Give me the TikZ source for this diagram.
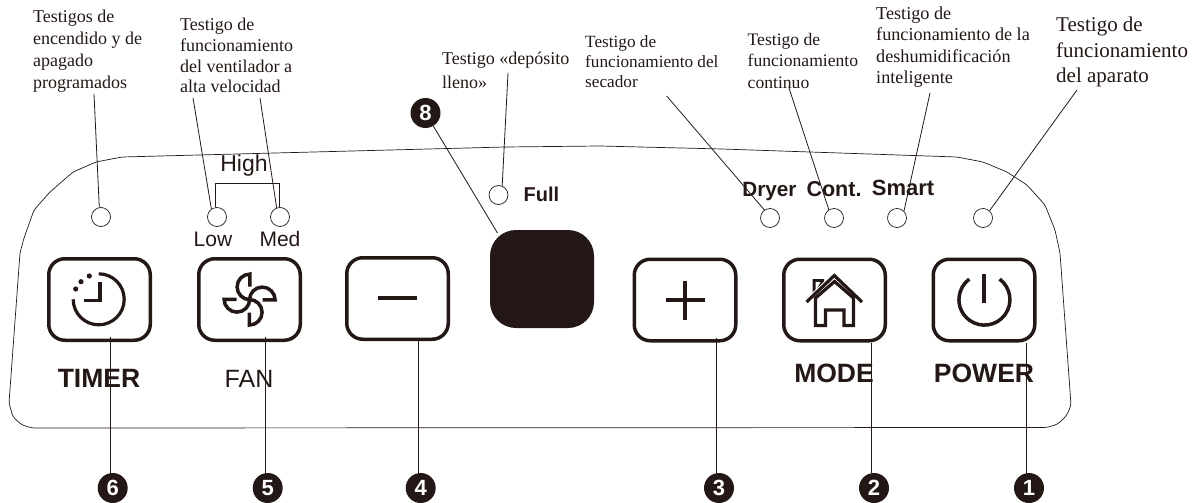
\documentclass[tikz,border=0pt]{standalone}
\usepackage{fontspec}
\setmainfont{Liberation Serif}
\newfontfamily\panelfont{Liberation Sans}
\usetikzlibrary{calc}
\definecolor{ink}{HTML}{231815}
\tikzset{
  note/.style 2 args={font=\fontsize{#1}{#2}\selectfont,align=left,anchor=west,inner sep=0pt,text=ink},
  panelsoft/.style={font=\panelfont\fontsize{#1}{#1}\selectfont,inner sep=0pt,anchor=base,text=ink},
  panelbold/.style={font=\panelfont\bfseries\fontsize{#1}{#1}\selectfont,inner sep=0pt,anchor=base,text=ink},
  led/.style={shape=circle,draw=ink,line width=.7pt,minimum size=19pt,inner sep=0pt},
  btn/.style={shape=rectangle,draw=ink,line width=3.5pt,rounded corners=16pt,minimum width=101.5pt,minimum height=81.5pt,inner sep=0pt},
  badge/.style={shape=circle,fill=ink,text=white,minimum size=30pt,inner sep=0pt,font=\panelfont\bfseries\fontsize{22}{22}\selectfont},
  leader/.style={draw=ink,line width=.8pt},
  icon/.style={draw=ink,line width=3.2pt},
}
\begin{document}
\begin{tikzpicture}[x=1pt,y=-1pt]
  \useasboundingbox (0,0) rectangle (1196,503);
  \draw[draw=ink,line width=.7pt,rounded corners=3pt] (122,157) -- (505,147) -- (600,146) -- (722,149) -- (957,157) -- (983,162) -- (1007,172) -- (1027,185) -- (1045,205) -- (1055,230) -- (1060,253) -- (1071,405) -- (1067,415) -- (1058,424) -- (1047,427.5) -- (32,428) -- (22,425) -- (13,417) -- (9,403) -- (20,253) -- (24,238) -- (34,210) -- (50,192) -- (73,172) -- (96,162) -- cycle;

  \node[note={18}{22}] (txtTimer) at (33,51) {Testigos de\\encendido y de\\apagado\\programados};
  \node[note={18}{20.7}] (txtFan) at (180,55.5) {Testigo de\\funcionamiento\\del ventilador a\\alta velocidad};
  \node[note={18}{24}] (txtFull) at (442,70.5) {Testigo «depósito\\lleno»};
  \node[note={17.2}{20}] (txtDryer) at (585,62) {Testigo de\\funcionamiento del\\secador};
  \node[note={17.6}{21.5}] (txtCont) at (747.5,60.5) {Testigo de\\funcionamiento\\continuo};
  \node[note={18.2}{21.3}] (txtSmart) at (876,47) {Testigo de\\funcionamiento de la\\deshumidificación\\inteligente};
  \node[note={21}{25.5}] (txtPower) at (1056,52) {Testigo de\\funcionamiento\\del aparato};

  \node[led] (ledTimer) at (101,217) {};
  \node[led] (ledLow) at (217,217) {};
  \node[led] (ledMed) at (280,217) {};
  \node[led] (ledFull) at (498.5,195) {};
  \node[led] (ledDryer) at (770,218) {};
  \node[led] (ledCont) at (834,218) {};
  \node[led] (ledSmart) at (897,218) {};
  \node[led] (ledPower) at (983,218) {};

  \node[panelsoft=23] (lblHigh) at (244,171.7) {High};
  \node[panelsoft=21] (lblLow) at (213,246.7) {Low};
  \node[panelsoft=21] (lblMed) at (280,246.7) {Med};
  \node[panelbold=20] (lblFull) at (541.5,201.7) {Full};
  \node[panelbold=20.7] (lblDryer) at (769.5,196) {Dryer};
  \node[panelbold=21.5] (lblCont) at (834,196) {Cont.};
  \node[panelbold=22] (lblSmart) at (903,195.5) {Smart};
  \node[panelbold=26.5] (lblTimer) at (99,387.7) {TIMER};
  \node[panelsoft=25] (lblFan) at (249,387.7) {FAN};
  \node[panelbold=26.5] (lblMode) at (834,382.3) {MODE};
  \node[panelbold=26.5] (lblPower) at (984,382.3) {POWER};

  \node[btn] (btnTimer) at (99.5,299.5) {};
  \node[btn] (btnFan) at (249.5,299.5) {};
  \node[btn] (btnMinus) at (397.5,298.5) {};
  \node[btn] (btnPlus) at (685,300) {};
  \node[btn] (btnMode) at (834.5,300) {};
  \node[btn] (btnPower) at (984,300) {};
  \node[shape=rectangle,fill=ink,rounded corners=26pt,minimum width=104pt,minimum height=98pt,inner sep=0pt] (display) at (542,279) {};

  \node[badge] (num8) at (425.5,113) {8};
  \node[badge] (num6) at (112.7,488) {6};
  \node[badge] (num5) at (267.7,488) {5};
  \node[badge] (num4) at (420.7,488) {4};
  \node[badge] (num3) at (719,488) {3};
  \node[badge] (num2) at (874,488) {2};
  \node[badge] (num1) at (1029,488) {1};

  \coordinate (endTimer) at (94,94);
  \coordinate (endLow) at (193,98);
  \coordinate (endMed) at (260,98);
  \coordinate (endFull) at (508,73);
  \coordinate (endDryer) at (666.7,96);
  \coordinate (endCont) at (789,88);
  \coordinate (endSmart) at (930,93);
  \coordinate (endPower) at (1077,90);
  \coordinate (dispTip) at (497.5,233);
  \coordinate (highBar) at (247,183.5);

  \draw[leader] (endTimer) -- (ledTimer.100);
  \draw[leader] (endLow) -- (ledLow.125);
  \draw[leader] (endMed) -- (ledMed.110);
  \draw[leader] (endFull) -- (ledFull.68);
  \draw[leader] (endDryer) -- (ledDryer.125);
  \draw[leader] (endCont) -- (ledCont.122);
  \draw[leader] (endSmart) -- (ledSmart.45);
  \draw[leader] (endPower) -- (ledPower.48);
  \draw[leader] (num8) -- (dispTip);
  \draw[draw=ink,line width=1.1pt] (ledLow.100) |- (highBar) -| (ledMed.95);

  \draw[leader] (num6.98) -- ($(num6.98 |- btnTimer.south)+(0,-5)$);
  \draw[leader] (num5.98) -- ($(num5.98 |- btnFan.south)+(0,-5)$);
  \draw[leader] (num4.98) -- (num4.98 |- btnMinus.south);
  \draw[leader] (num3.98) -- ($(num3.98 |- btnPlus.south)+(0,-5)$);
  \draw[leader] (num2.98) -- (num2.98 |- btnMode.south);
  \draw[leader] (num1.98) -- (num1.98 |- btnPower.south);

  \draw[icon] (98.7,273.8) arc[start angle=90,end angle=-180,radius=25.5pt];
  \draw[icon,line width=3.6pt] (100,282) -- (100,300.5) -- (84,300.5);
  \fill[ink] (75.7,289) circle[radius=2.6pt];
  \fill[ink] (81,281.7) circle[radius=2.6pt];
  \fill[ink] (89.3,276) circle[radius=2.6pt];

  \foreach \rr in {0,90,180,270} {
    \begin{scope}[shift={(249.6,299.6)},rotate=\rr]
      \draw[icon,line width=3.5pt,line join=miter] (.3,-13) -- (.3,-25.5) arc[start angle=90,end angle=270,radius=12.8pt];
    \end{scope}
  }

  \draw[icon,line width=4.4pt] (378,298) -- (417,298);
  \draw[icon,line width=4pt] (665.7,300) -- (705,300);
  \draw[icon,line width=4pt] (685,280.7) -- (685,320);

  \fill[ink] (812.5,295) -- (812.5,279) -- (824,279) -- (824,285) -- cycle;
  \fill[white] (815.5,291) -- (815.5,282) -- (820.5,282) -- cycle;
  \draw[draw=white,line width=5pt,line join=miter] (804,304) -- (834.3,275.5) -- (864,304);
  \draw[icon,line join=miter] (806.5,302) -- (834.3,275.5) -- (862,302);
  \draw[icon,line join=miter] (815.5,325.5) -- (815.5,298) -- (834.5,281.5) -- (853.5,298) -- (853.5,325.5) -- (844,325.5) -- (844,310) -- (825.5,310) -- (825.5,325.5) -- cycle;

  \draw[icon,line cap=butt,line width=3.5pt] (999.6,279.1) arc[start angle=53.5,end angle=-233.5,radius=25.5pt];
  \draw[icon,line width=4pt] (983.7,274.3) -- (983.7,302.7);
\end{tikzpicture}
\end{document}
